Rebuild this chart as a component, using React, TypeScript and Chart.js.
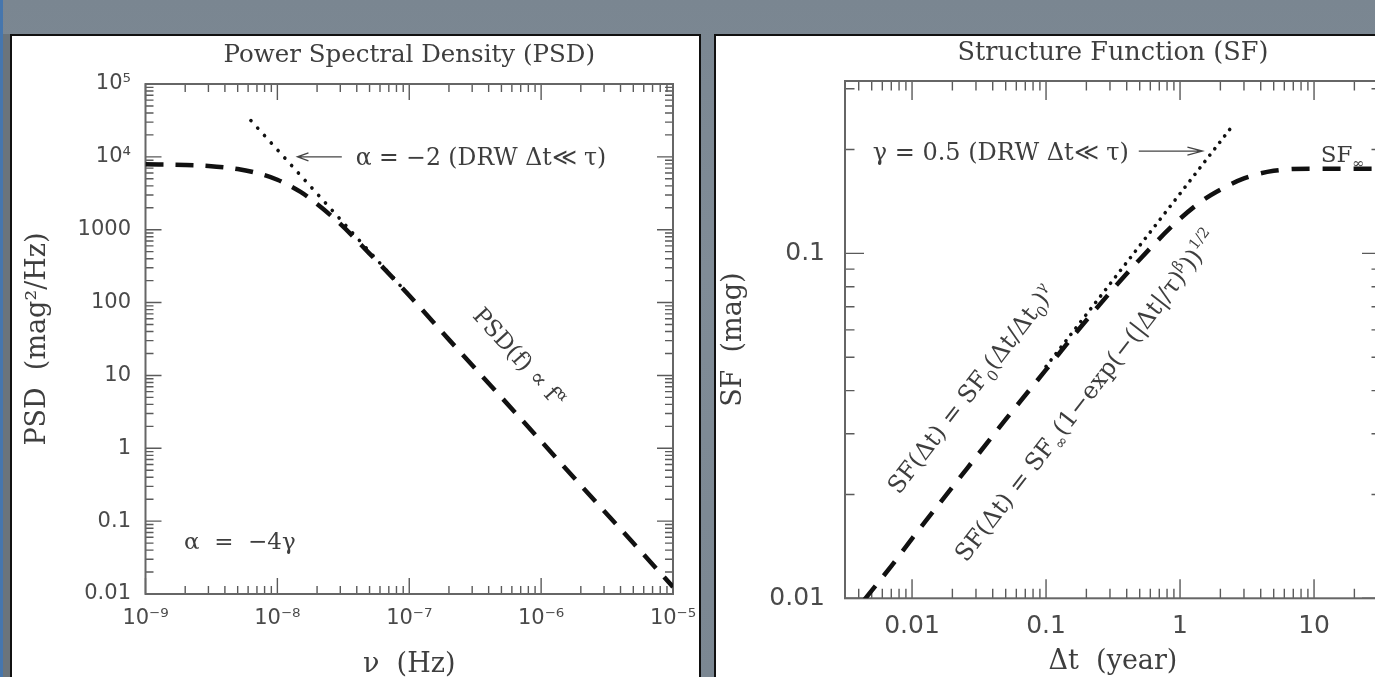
import React, { useEffect, useRef } from "react";
import { Chart, registerables } from "chart.js";

Chart.register(...registerables);

// ---------------- Power Spectral Density (left panel) ----------------
const psdFreq = [1e-9, 2e-9, 3e-9, 5e-9, 7e-9, 1e-8, 1.5e-8, 2e-8, 3e-8, 5e-8, 7e-8, 1e-7, 2e-7, 5e-7, 1e-6, 2e-6, 5e-6, 1e-5];
const psdDRW = [7900, 7750, 7500, 6800, 6000, 4850, 3300, 2250, 1200, 470, 250, 125, 31, 5, 1.25, 0.31, 0.05, 0.0125];
const psdSlopeFreq = [6.3e-9, 1e-8, 2e-8, 5e-8, 1e-7];
const psdSlopeValues = [31500, 12500, 3125, 500, 125];
const psdXTicks = [1e-9, 1e-8, 1e-7, 1e-6, 1e-5];
const psdXTickLabels = ["10⁻⁹", "10⁻⁸", "10⁻⁷", "10⁻⁶", "10⁻⁵"];
const psdYTicks = [0.01, 0.1, 1, 10, 100, 1000, 1e4, 1e5];
const psdYTickLabels = ["0.01", "0.1", "1", "10", "100", "1000", "10⁴", "10⁵"];
const psdXRange = [1e-9, 1e-5];
const psdYRange = [0.01, 1e5];

// ---------------- Structure Function (right panel) ----------------
const sfLag = [0.0044, 0.007, 0.01, 0.02, 0.05, 0.1, 0.2, 0.5, 1, 1.5, 2, 3, 5, 10, 31.6];
const sfDRW = [0.0099, 0.0124, 0.0149, 0.021, 0.033, 0.046, 0.064, 0.096, 0.126, 0.143, 0.153, 0.165, 0.1735, 0.176, 0.176];
const sfSlopeLag = [0.1, 0.3, 1, 2.5];
const sfSlopeValues = [0.047, 0.0815, 0.149, 0.236];
const sfXTicks = [0.01, 0.1, 1, 10];
const sfXTickLabels = ["0.01", "0.1", "1", "10"];
const sfYTicks = [0.01, 0.1];
const sfYTickLabels = ["0.01", "0.1"];
const sfXRange = [0.00316, 31.6];
const sfYRange = [0.01, 0.316];

const SERIF = "'DejaVu Serif', 'Liberation Serif', serif";
const SANS = "'DejaVu Sans', 'Liberation Sans', sans-serif";
const TEXT = "#3e3e3e";
const TICKTEXT = "#4a4a4a";

type Seg = { t: string; k?: "sub" | "sup" };
type Note = {
  x: number;
  y: number;
  segs: Seg[];
  size: number;
  align: "left" | "center";
  v: "middle" | "alphabetic";
  along?: { xs: number[]; ys: number[] };
};
type Arrow = { x1: number; x2: number; y: number; head: number; half: number };

type Spec = {
  datasets: any[];
  xRange: number[];
  yRange: number[];
  xTicks: number[];
  xLabels: string[];
  yTicks: number[];
  yLabels: string[];
  padding: { left: number; top: number; right: number; bottom: number };
  yAxisWidth: number;
  xAxisHeight: number;
  tickFont: number;
  xTickPad: number;
  yTickPad: number;
  majorLen: number;
  minorLen: number;
  title: string;
  titleY: number;
  titleSize: number;
  xTitle: string;
  xTitlePadBottom: number;
  yTitle: string;
  yTitlePadTop: number;
  axisTitleSize: number;
  notes: Note[];
  arrows: Arrow[];
};

function logTicks(min: number, max: number) {
  const out: { v: number; major: boolean }[] = [];
  const d0 = Math.floor(Math.log10(min));
  const d1 = Math.ceil(Math.log10(max));
  for (let d = d0; d <= d1; d++) {
    for (let m = 1; m <= 9; m++) {
      const v = m * Math.pow(10, d);
      if (v >= min * 0.9999 && v <= max * 1.0001) out.push({ v, major: m === 1 });
    }
  }
  return out;
}

function drawRich(
  ctx: CanvasRenderingContext2D,
  segs: Seg[],
  size: number,
  px: number,
  py: number,
  angle: number,
  align: "left" | "center",
  v: "middle" | "alphabetic"
) {
  ctx.save();
  ctx.translate(px, py);
  ctx.rotate(angle);
  ctx.fillStyle = TEXT;
  ctx.textBaseline = "alphabetic";
  ctx.textAlign = "left";
  const parts = segs.map((s) => {
    const fs = s.k ? size * 0.62 : size;
    ctx.font = `${fs}px ${SERIF}`;
    return { s, fs, w: ctx.measureText(s.t).width };
  });
  const total = parts.reduce((a, p) => a + p.w, 0);
  let x = align === "center" ? -total / 2 : 0;
  const yb = v === "middle" ? size * 0.36 : 0;
  for (const p of parts) {
    ctx.font = `${p.fs}px ${SERIF}`;
    const dy = p.s.k === "sub" ? size * 0.25 : p.s.k === "sup" ? -size * 0.42 : 0;
    ctx.fillText(p.s.t, x, yb + dy);
    x += p.w;
  }
  ctx.restore();
}

function makeDecor(spec: Spec) {
  return {
    id: "decor",
    beforeDatasetsDraw(chart: any) {
      const { ctx, chartArea: a, scales } = chart;
      const xs = scales.x;
      const ys = scales.y;
      ctx.save();
      ctx.strokeStyle = "#5a5a5a";
      ctx.lineWidth = 1.4;
      ctx.beginPath();
      for (const t of logTicks(xs.min, xs.max)) {
        const p = xs.getPixelForValue(t.v);
        const L = t.major ? spec.majorLen : spec.minorLen;
        ctx.moveTo(p, a.bottom);
        ctx.lineTo(p, a.bottom - L);
        ctx.moveTo(p, a.top);
        ctx.lineTo(p, a.top + L);
      }
      for (const t of logTicks(ys.min, ys.max)) {
        const p = ys.getPixelForValue(t.v);
        const L = t.major ? spec.majorLen : spec.minorLen;
        ctx.moveTo(a.left, p);
        ctx.lineTo(a.left + L, p);
        ctx.moveTo(a.right, p);
        ctx.lineTo(a.right - L, p);
      }
      ctx.stroke();
      ctx.strokeStyle = "#666";
      ctx.lineWidth = 2;
      ctx.strokeRect(a.left, a.top, a.right - a.left, a.bottom - a.top);
      ctx.restore();
    },
    afterDatasetsDraw(chart: any) {
      const { ctx, chartArea: a, scales } = chart;
      const xs = scales.x;
      const ys = scales.y;
      ctx.save();
      ctx.font = `${spec.titleSize}px ${SERIF}`;
      ctx.fillStyle = TEXT;
      ctx.textAlign = "center";
      ctx.textBaseline = "middle";
      ctx.fillText(spec.title, (a.left + a.right) / 2, spec.titleY);
      ctx.restore();
      for (const ar of spec.arrows) {
        const x1 = xs.getPixelForValue(ar.x1);
        const x2 = xs.getPixelForValue(ar.x2);
        const y = ys.getPixelForValue(ar.y);
        const dir = Math.sign(x2 - x1);
        ctx.save();
        ctx.strokeStyle = "#444";
        ctx.lineWidth = 1.3;
        ctx.beginPath();
        ctx.moveTo(x1, y);
        ctx.lineTo(x2, y);
        ctx.moveTo(x2 - dir * ar.head, y - ar.half);
        ctx.lineTo(x2, y);
        ctx.lineTo(x2 - dir * ar.head, y + ar.half);
        ctx.stroke();
        ctx.restore();
      }
      for (const n of spec.notes) {
        let angle = 0;
        if (n.along) {
          const k = n.along.xs.length - 1;
          const px1 = xs.getPixelForValue(n.along.xs[0]);
          const py1 = ys.getPixelForValue(n.along.ys[0]);
          const px2 = xs.getPixelForValue(n.along.xs[k]);
          const py2 = ys.getPixelForValue(n.along.ys[k]);
          angle = Math.atan2(py2 - py1, px2 - px1);
          if (Math.abs(angle) > Math.PI / 2) angle += Math.PI;
        }
        drawRich(ctx, n.segs, n.size, xs.getPixelForValue(n.x), ys.getPixelForValue(n.y), angle, n.align, n.v);
      }
    },
  };
}

function buildChart(canvas: HTMLCanvasElement, spec: Spec) {
  return new Chart(canvas, {
    type: "line",
    data: { datasets: spec.datasets },
    options: {
      responsive: false,
      maintainAspectRatio: false,
      animation: false,
      devicePixelRatio: 1,
      events: [],
      layout: { padding: spec.padding },
      plugins: {
        legend: { display: false },
        tooltip: { enabled: false },
        title: { display: false },
      },
      scales: {
        x: {
          type: "logarithmic",
          position: "bottom",
          min: spec.xRange[0],
          max: spec.xRange[1],
          grid: { display: false, drawTicks: false },
          border: { display: false },
          afterBuildTicks: (s: any) => {
            s.ticks = spec.xTicks.map((v) => ({ value: v }));
          },
          afterFit: (s: any) => {
            s.height = spec.xAxisHeight;
            s.paddingLeft = 0;
            s.paddingRight = 0;
          },
          ticks: {
            autoSkip: false,
            maxRotation: 0,
            minRotation: 0,
            padding: spec.xTickPad,
            color: TICKTEXT,
            font: { family: SANS, size: spec.tickFont },
            callback: (v: any, i: number) => spec.xLabels[i] ?? "",
          },
          title: {
            display: true,
            text: spec.xTitle,
            color: TEXT,
            font: { family: SERIF, size: spec.axisTitleSize, lineHeight: 1 },
            padding: { top: 0, bottom: spec.xTitlePadBottom },
          },
        },
        y: {
          type: "logarithmic",
          position: "left",
          min: spec.yRange[0],
          max: spec.yRange[1],
          grid: { display: false, drawTicks: false },
          border: { display: false },
          afterBuildTicks: (s: any) => {
            s.ticks = spec.yTicks.map((v) => ({ value: v }));
          },
          afterFit: (s: any) => {
            s.width = spec.yAxisWidth;
            s.paddingTop = 0;
            s.paddingBottom = 0;
          },
          ticks: {
            autoSkip: false,
            padding: spec.yTickPad,
            color: TICKTEXT,
            font: { family: SANS, size: spec.tickFont },
            callback: (v: any, i: number) => spec.yLabels[i] ?? "",
          },
          title: {
            display: true,
            text: spec.yTitle,
            color: TEXT,
            font: { family: SERIF, size: spec.axisTitleSize, lineHeight: 1 },
            padding: { top: spec.yTitlePadTop, bottom: 0 },
          },
        },
      },
    } as any,
    plugins: [makeDecor(spec) as any],
  });
}

const dashed = { borderColor: "#111", borderWidth: 4.5, borderDash: [18, 12], pointRadius: 0, fill: false, cubicInterpolationMode: "monotone" };
const dotted = { borderColor: "#111", borderWidth: 3.6, borderCapStyle: "round", pointRadius: 0, fill: false };

const psdSpec: Spec = {
  datasets: [
    { ...dashed, data: psdFreq.map((x, i) => ({ x, y: psdDRW[i] })) },
    { ...dotted, borderDash: [0.1, 10], data: psdSlopeFreq.map((x, i) => ({ x, y: psdSlopeValues[i] })) },
  ],
  xRange: psdXRange,
  yRange: psdYRange,
  xTicks: psdXTicks,
  xLabels: psdXTickLabels,
  yTicks: psdYTicks,
  yLabels: psdYTickLabels,
  padding: { left: 0, top: 48, right: 27, bottom: 0 },
  yAxisWidth: 133.5,
  xAxisHeight: 83,
  tickFont: 21,
  xTickPad: 12,
  yTickPad: 14.5,
  majorLen: 16,
  minorLen: 8,
  title: "Power Spectral Density (PSD)",
  titleY: 19.5,
  titleSize: 24.5,
  xTitle: "ν  (Hz)",
  xTitlePadBottom: -1,
  yTitle: "PSD  (mag²/Hz)",
  yTitlePadTop: 12.5,
  axisTitleSize: 27,
  notes: [
    { x: 3.93e-8, y: 1e4, segs: [{ t: "α = −2 (DRW Δt≪ τ)" }], size: 23.5, align: "left", v: "middle" },
    { x: 1.96e-9, y: 0.0532, segs: [{ t: "α  =  −4γ" }], size: 23, align: "left", v: "middle" },
    {
      x: 6.87e-7,
      y: 18,
      segs: [{ t: "PSD(f) ∝ f" }, { t: "α", k: "sup" }],
      size: 23,
      align: "center",
      v: "middle",
      along: { xs: psdSlopeFreq, ys: psdSlopeValues },
    },
  ],
  arrows: [{ x1: 3.08e-8, x2: 1.42e-8, y: 1e4, head: 11, half: 4 }],
};

const sfSpec: Spec = {
  datasets: [
    { ...dashed, borderDash: [18, 13], data: sfLag.map((x, i) => ({ x, y: sfDRW[i] })) },
    { ...dotted, borderDash: [0.1, 8], data: sfSlopeLag.map((x, i) => ({ x, y: sfSlopeValues[i] })) },
  ],
  xRange: sfXRange,
  yRange: sfYRange,
  xTicks: sfXTicks,
  xLabels: sfXTickLabels,
  yTicks: sfYTicks,
  yLabels: sfYTickLabels,
  padding: { left: 0, top: 45, right: 16, bottom: 0 },
  yAxisWidth: 128,
  xAxisHeight: 78.7,
  tickFont: 25,
  xTickPad: 13,
  yTickPad: 20,
  majorLen: 19,
  minorLen: 9.5,
  title: "Structure Function (SF)",
  titleY: 17.3,
  titleSize: 25.5,
  xTitle: "Δt  (year)",
  xTitlePadBottom: 1.5,
  yTitle: "SF  (mag)",
  yTitlePadTop: 3,
  axisTitleSize: 27,
  notes: [
    { x: 0.00509, y: 0.198, segs: [{ t: "γ = 0.5 (DRW Δt≪ τ)" }], size: 24, align: "left", v: "middle" },
    { x: 11.2, y: 0.1843, segs: [{ t: "SF" }, { t: "∞", k: "sub" }], size: 23, align: "left", v: "alphabetic" },
    {
      x: 0.0273,
      y: 0.0405,
      segs: [{ t: "SF(Δt) = SF" }, { t: "0", k: "sub" }, { t: "(Δt/Δt" }, { t: "0", k: "sub" }, { t: ")" }, { t: "γ", k: "sup" }],
      size: 24,
      align: "center",
      v: "middle",
      along: { xs: sfSlopeLag, ys: sfSlopeValues },
    },
    {
      x: 0.197,
      y: 0.0388,
      segs: [
        { t: "SF(Δt) = SF" },
        { t: "∞", k: "sub" },
        { t: "(1−exp(−(|Δt|/τ)" },
        { t: "β", k: "sup" },
        { t: "))" },
        { t: "1/2", k: "sup" },
      ],
      size: 24,
      align: "center",
      v: "middle",
      along: { xs: sfSlopeLag, ys: sfSlopeValues },
    },
  ],
  arrows: [{ x1: 0.492, x2: 1.469, y: 0.198, head: 15, half: 4 }],
};

export default function App() {
  const leftRef = useRef<HTMLCanvasElement>(null);
  const rightRef = useRef<HTMLCanvasElement>(null);

  useEffect(() => {
    const c1 = buildChart(leftRef.current as HTMLCanvasElement, psdSpec);
    const c2 = buildChart(rightRef.current as HTMLCanvasElement, sfSpec);
    return () => {
      c1.destroy();
      c2.destroy();
    };
  }, []);

  const panel: React.CSSProperties = {
    position: "absolute",
    background: "#fff",
    border: "2px solid #111",
    boxSizing: "border-box",
  };

  return (
    <div
      style={{
        position: "fixed",
        left: 0,
        top: 0,
        width: 1375,
        height: 677,
        overflow: "hidden",
        background: "linear-gradient(180deg, #7a8691 0%, #808c97 40%, #7b8792 100%)",
      }}
    >
      <div style={{ position: "absolute", left: 0, top: 0, width: 3, height: 677, background: "#4676ad" }} />
      <div style={{ position: "absolute", left: 3, top: 34, width: 7, height: 643, background: "#6b747b" }} />
      <div style={{ ...panel, left: 10, top: 34, width: 691, height: 700 }} />
      <div style={{ ...panel, left: 714, top: 34, width: 700, height: 700 }} />
      <canvas
        ref={leftRef}
        width={688}
        height={641}
        style={{ position: "absolute", left: 12, top: 36, width: 688, height: 641 }}
      />
      <canvas
        ref={rightRef}
        width={680}
        height={641}
        style={{ position: "absolute", left: 717, top: 36, width: 680, height: 641 }}
      />
    </div>
  );
}
